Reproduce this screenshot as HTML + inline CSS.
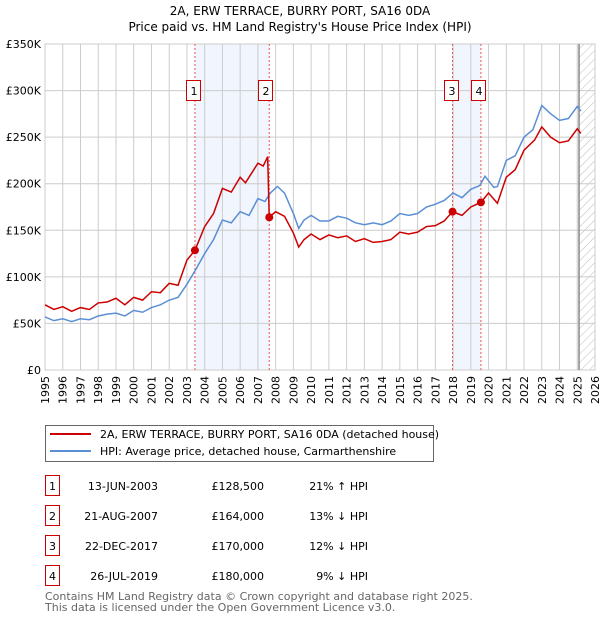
<!DOCTYPE html>
<html><head><meta charset="utf-8"><style>
body{margin:0;background:#fff;font-family:"DejaVu Sans","Liberation Sans",sans-serif;}
svg text{font-family:"DejaVu Sans","Liberation Sans",sans-serif;}
</style></head><body>
<svg id="c" width="600" height="620" xmlns="http://www.w3.org/2000/svg">
<text x="300" y="15" text-anchor="middle" font-size="12">2A, ERW TERRACE, BURRY PORT, SA16 0DA</text>
<text x="300" y="31" text-anchor="middle" font-size="12">Price paid vs. HM Land Registry's House Price Index (HPI)</text>
<g id="grid"></g><g id="series"></g><g id="axes"></g>
<g>
<rect x="45.5" y="425.5" width="388" height="36" fill="#fff" stroke="#666"/>
<line x1="50" y1="434" x2="91" y2="434" stroke="#cc0000" stroke-width="2"/>
<text x="100" y="438" font-size="11">2A, ERW TERRACE, BURRY PORT, SA16 0DA (detached house)</text>
<line x1="50" y1="451" x2="91" y2="451" stroke="#5b8fd4" stroke-width="2"/>
<text x="100" y="455" font-size="11">HPI: Average price, detached house, Carmarthenshire</text>
</g>
<g id="table" font-size="11"></g>
<text x="45" y="600" font-size="11" fill="#666">Contains HM Land Registry data © Crown copyright and database right 2025.</text>
<text x="45" y="611" font-size="11" fill="#666">This data is licensed under the Open Government Licence v3.0.</text>
</svg>
<script>
const hpiDates=[1995,1995.5,1996,1996.5,1997,1997.5,1998,1998.5,1999,1999.5,2000,2000.5,2001,2001.5,2002,2002.5,2003,2003.5,2004,2004.5,2005,2005.5,2006,2006.5,2007,2007.4,2007.7,2008.1,2008.5,2009,2009.3,2009.6,2010,2010.5,2011,2011.5,2012,2012.5,2013,2013.5,2014,2014.5,2015,2015.5,2016,2016.5,2017,2017.5,2018,2018.5,2019,2019.5,2019.8,2020.3,2020.5,2021,2021.5,2022,2022.5,2023,2023.5,2024,2024.5,2025,2025.2];
const hpiValues=[57,53,55,52,55,54,58,60,61,58,64,62,67,70,75,78,92,108,125,140,161,158,170,166,184,181,190,197,190,168,152,161,166,160,160,165,163,158,156,158,156,160,168,166,168,175,178,182,190,185,194,198,208,196,197,225,230,250,258,284,275,268,270,283,278];
const ppDates=[1995,1995.5,1996,1996.5,1997,1997.5,1998,1998.5,1999,1999.5,2000,2000.5,2001,2001.5,2002,2002.5,2003,2003.45,2004,2004.5,2005,2005.5,2006,2006.3,2007,2007.3,2007.55,2007.64,2008,2008.5,2009,2009.3,2009.6,2010,2010.5,2011,2011.5,2012,2012.5,2013,2013.5,2014,2014.5,2015,2015.5,2016,2016.5,2017,2017.5,2017.97,2018.5,2019,2019.57,2020,2020.5,2021,2021.5,2022,2022.6,2023,2023.5,2024,2024.5,2025,2025.2];
const ppValues=[70,65,68,63,67,65,72,73,77,70,78,75,84,83,93,91,118,128.5,154,168,195,191,207,201,222,219,229,164,170,165,147,132,140,146,140,145,142,144,138,141,137,138,140,148,146,148,154,155,160,170,166,175,180,190,179,207,215,236,247,261,250,244,246,259,254];
const years=[1995,1996,1997,1998,1999,2000,2001,2002,2003,2004,2005,2006,2007,2008,2009,2010,2011,2012,2013,2014,2015,2016,2017,2018,2019,2020,2021,2022,2023,2024,2025,2026];
const yTicks=[0,50,100,150,200,250,300,350];
const yTickLabels=["£0","£50K","£100K","£150K","£200K","£250K","£300K","£350K"];
const saleLabels=["1","2","3","4"];
const saleDates=[2003.45,2007.64,2017.97,2019.57];
const saleValues=[128.5,164,170,180];
const saleDateText=["13-JUN-2003","21-AUG-2007","22-DEC-2017","26-JUL-2019"];
const salePriceText=["£128,500","£164,000","£170,000","£180,000"];
const saleHpiText=["21% ↑ HPI","13% ↓ HPI","12% ↓ HPI","9% ↓ HPI"];
const X0=45,X1=595,Y0=370,Y1=44;
const xs=d=>X0+(d-1995)/(2026-1995)*(X1-X0);
const ys=v=>Y0-v/350*(Y0-Y1);
const NS="http://www.w3.org/2000/svg";
function mk(tag,attrs,parent,txt){const e=document.createElementNS(NS,tag);for(const k in attrs)e.setAttribute(k,attrs[k]);if(txt!==undefined)e.textContent=txt;parent.appendChild(e);return e;}
const grid=document.getElementById('grid'),ser=document.getElementById('series'),ax=document.getElementById('axes'),tb=document.getElementById('table');
// shaded spans
for(const [a,b] of [[0,1],[2,3]]){const r=mk('rect',{x:xs(saleDates[a]),y:Y1,width:xs(saleDates[b])-xs(saleDates[a]),height:Y0-Y1,fill:'#eef3fc',opacity:0.8},grid);

}
// hatch
const defs=mk('defs',{},grid);const pat=mk('pattern',{id:'h',width:6,height:6,patternUnits:'userSpaceOnUse',patternTransform:'rotate(45)'},defs);mk('line',{x1:0,y1:0,x2:0,y2:6,stroke:'#bbb','stroke-width':1},pat);
const hr=mk('rect',{x:xs(2025.1),y:Y1,width:X1-xs(2025.1),height:Y0-Y1,fill:'url(#h)'},grid);


years.forEach(y=>{const l=mk('line',{x1:xs(y),x2:xs(y),y1:Y1,y2:Y0,stroke:'#ccc'},grid);


const t=mk('text',{x:0,y:0,'font-size':11,'text-anchor':'end',transform:`translate(${xs(y)+4},${Y0+6}) rotate(-90)`},ax,String(y));

});
yTicks.forEach((v,i)=>{const l=mk('line',{x1:X0,x2:X1,y1:ys(v),y2:ys(v),stroke:'#ccc'},grid);


const t=mk('text',{x:X0-4,y:ys(v)+4,'font-size':11,'text-anchor':'end'},ax,yTickLabels[i]);

});
mk('rect',{x:X0,y:Y1,width:X1-X0,height:Y0-Y1,fill:'none',stroke:'#ccc'},grid);
mk('line',{x1:xs(2025.1),x2:xs(2025.1),y1:Y1,y2:Y0,stroke:'#888','stroke-width':1.5},grid);
saleDates.forEach(d=>{const l=mk('line',{x1:xs(d),x2:xs(d),y1:Y1,y2:Y0,stroke:'#e55','stroke-dasharray':'2,2','stroke-width':1},grid);

});
const hp=mk('polyline',{points:hpiDates.map((d,i)=>xs(d)+','+ys(hpiValues[i])).join(' '),fill:'none',stroke:'#5b8fd4','stroke-width':1.5},ser);


const pp=mk('polyline',{points:ppDates.map((d,i)=>xs(d)+','+ys(ppValues[i])).join(' '),fill:'none',stroke:'#cc0000','stroke-width':1.5},ser);


saleDates.forEach((d,i)=>{const c=mk('circle',{cx:xs(d),cy:ys(saleValues[i]),r:4,fill:'#cc0000'},ser);


const bx=xs(d)-(i%2==0?22:-4)+ (i%2==0?8:-8);
const g=mk('g',{},ser);


const cx=xs(d)-7-(i%2==0?0:0);
const lx=[187,259,445,472][i];
mk('rect',{x:lx-0.5,y:80.5,width:14,height:20,fill:'#fff',stroke:'#c00'},g);
mk('text',{x:lx+7,y:95,'font-size':11,'text-anchor':'middle'},g,saleLabels[i]);
// table
const ry=475+i*30;
const row=mk('g',{},tb);


mk('rect',{x:45.5,y:ry+0.5,width:14,height:20,fill:'#fff',stroke:'#c00'},row);
mk('text',{x:52.5,y:ry+15,'text-anchor':'middle'},row,saleLabels[i]);
mk('text',{x:158,y:ry+15,'text-anchor':'end'},row,saleDateText[i]);
mk('text',{x:264,y:ry+15,'text-anchor':'end'},row,salePriceText[i]);
mk('text',{x:368,y:ry+15,'text-anchor':'end'},row,saleHpiText[i]);
});
</script>
</body></html>
